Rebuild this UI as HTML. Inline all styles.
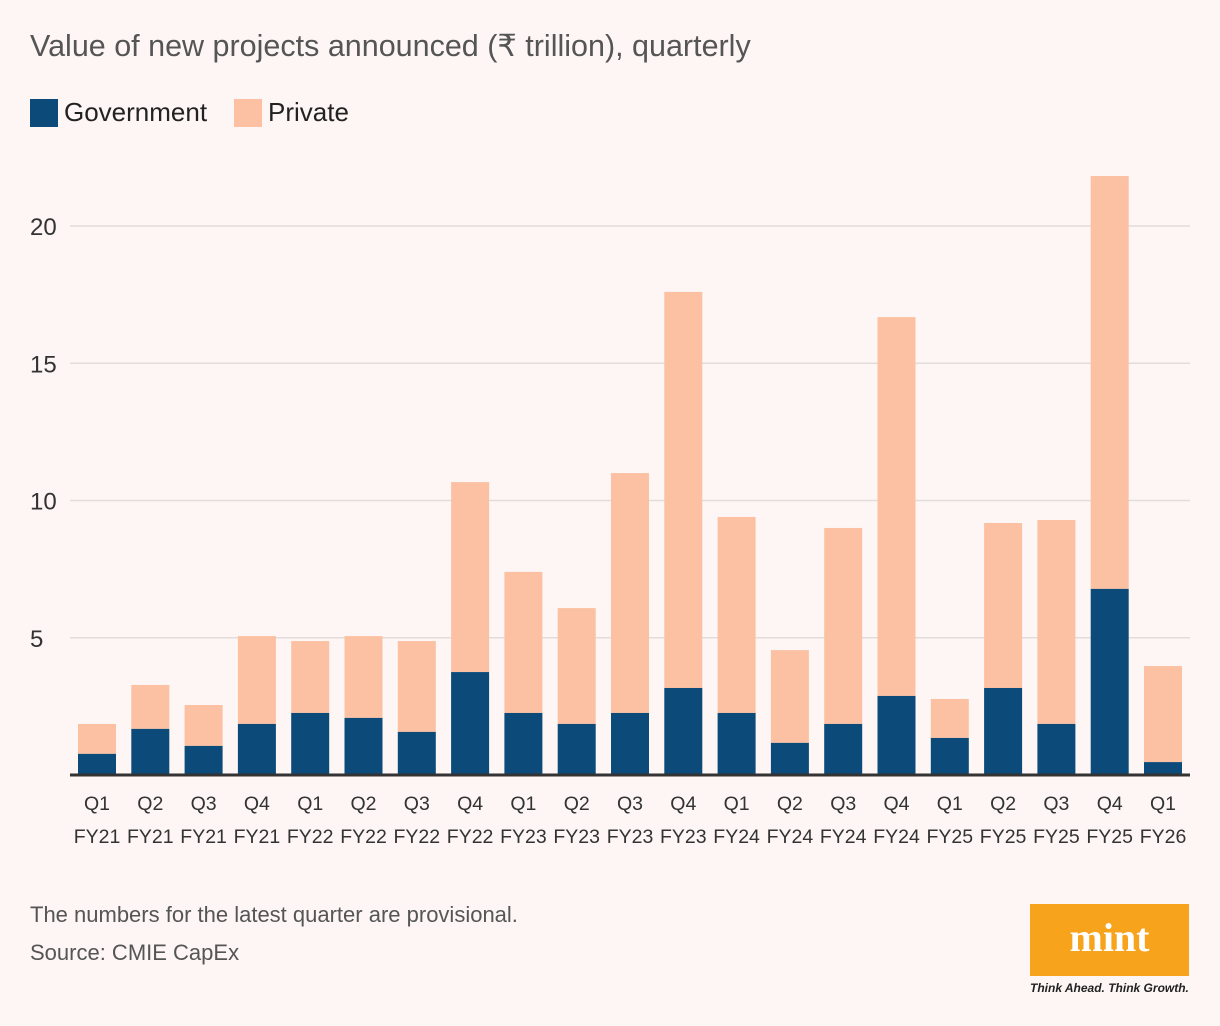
<!DOCTYPE html>
<html><head><meta charset="utf-8">
<style>
body{margin:0;background:#fdf6f4;font-family:"Liberation Sans",sans-serif;}
#wrap{position:relative;width:1220px;height:1026px;overflow:hidden;background:#fdf6f4;}
.t{position:absolute;color:#3a3a3a;white-space:nowrap;}
</style></head><body>
<div id="wrap">
<div class="t" style="left:30px;top:29px;font-size:30.5px;color:#555;">Value of new projects announced (₹ trillion), quarterly</div>
<div style="position:absolute;left:30px;top:99px;width:28px;height:28px;background:#0b4a79"></div>
<div class="t" style="left:64px;top:97px;font-size:26px;color:#222">Government</div>
<div style="position:absolute;left:234px;top:99px;width:28px;height:28px;background:#fbc1a2"></div>
<div class="t" style="left:268px;top:97px;font-size:26px;color:#222">Private</div>
<svg id="chart" width="1220" height="1026" style="position:absolute;left:0;top:0"></svg>
<div class="t" style="left:30px;top:902px;font-size:22px;color:#555">The numbers for the latest quarter are provisional.</div>
<div class="t" style="left:30px;top:940px;font-size:22px;color:#555">Source: CMIE CapEx</div>
<div style="position:absolute;left:1030px;top:904px;width:159px;height:72px;background:#f7a31b;color:#fff;font-family:'Liberation Serif',serif;font-weight:bold;font-size:40px;text-align:center;line-height:68px">mint</div>
<div class="t" style="left:1030px;top:981px;font-size:12px;font-style:italic;font-weight:bold;color:#222">Think Ahead. Think Growth.</div>
</div>
<script>
const quarters=["Q1","Q2","Q3","Q4","Q1","Q2","Q3","Q4","Q1","Q2","Q3","Q4","Q1","Q2","Q3","Q4","Q1","Q2","Q3","Q4","Q1"];
const years=["FY21","FY21","FY21","FY21","FY22","FY22","FY22","FY22","FY23","FY23","FY23","FY23","FY24","FY24","FY24","FY24","FY25","FY25","FY25","FY25","FY26"];
const government=[0.77,1.68,1.06,1.86,2.26,2.08,1.57,3.75,2.26,1.86,2.26,3.17,2.26,1.17,1.86,2.88,1.35,3.17,1.86,6.78,0.47];
const total=[1.86,3.28,2.55,5.06,4.88,5.06,4.88,10.67,7.40,6.08,11.0,17.6,9.40,4.55,9.0,16.68,2.77,9.18,9.29,21.82,3.97];
const yTicks=[5,10,15,20];
const NS="http://www.w3.org/2000/svg";
const svg=document.getElementById('chart');
const y0=775,yPer=(775-226)/20,x0=97,step=53.3,bw=38;
const y=v=>y0-v*yPer, x=i=>x0+i*step;
function mk(tag,attrs){const e=document.createElementNS(NS,tag);for(const k in attrs)e.setAttribute(k,attrs[k]);svg.appendChild(e);return e;}
yTicks.forEach(t=>{
  const l=mk('line',{x1:70,x2:1190,y1:y(t),y2:y(t),stroke:'#e2dcda','stroke-width':1.5});
  
  
  const tx=mk('text',{x:30,y:y(t)+9,'font-size':24,fill:'#333','font-family':'Liberation Sans, sans-serif'});
  tx.textContent=t;
  
  
});
quarters.forEach((q,i)=>{
  const p=mk('rect',{x:x(i)-bw/2,y:y(total[i]),width:bw,height:y(government[i])-y(total[i]),fill:'#fbc1a2'});
  
  
  const g=mk('rect',{x:x(i)-bw/2,y:y(government[i]),width:bw,height:y0-y(government[i]),fill:'#0b4a79'});
  
  
  const a=mk('text',{x:x(i),y:810,'text-anchor':'middle','font-size':19.5,fill:'#333','font-family':'Liberation Sans, sans-serif'});
  a.textContent=q;
  
  
  const b=mk('text',{x:x(i),y:843,'text-anchor':'middle','font-size':19.5,fill:'#333','font-family':'Liberation Sans, sans-serif'});
  b.textContent=years[i];
  
  
});
const ax=mk('line',{x1:70,x2:1190,y1:y0,y2:y0,stroke:'#333','stroke-width':3});


</script>
</body></html>
